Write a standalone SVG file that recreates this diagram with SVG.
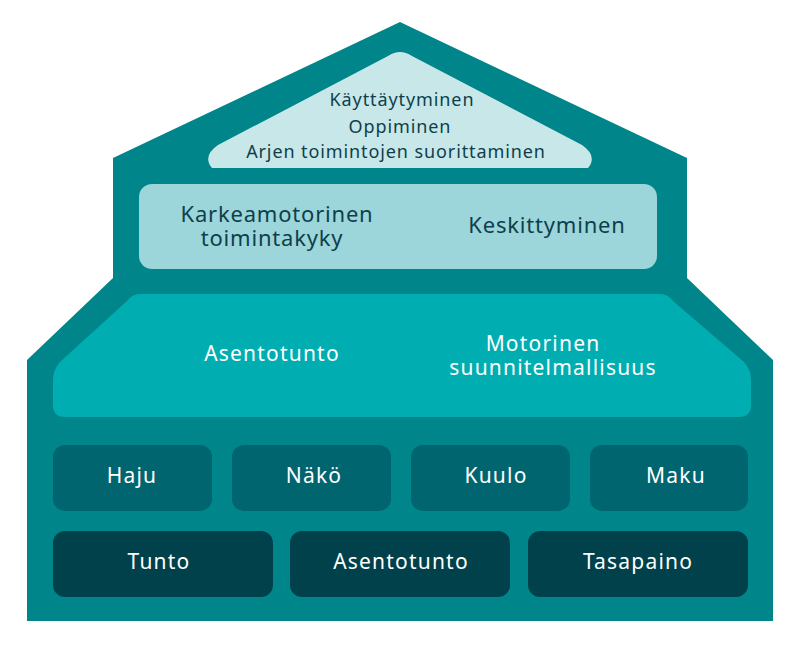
<svg xmlns="http://www.w3.org/2000/svg" width="800" height="648" viewBox="0 0 800 648">
<style>
text{font-family:"Noto Sans","Liberation Sans",sans-serif;text-anchor:middle}
.d{fill:#0e3f4c;font-size:18px;letter-spacing:0.9px}
.m{fill:#0e3f4c;font-size:22px;letter-spacing:0.8px}
.w{fill:#ffffff;font-size:21px;letter-spacing:1.2px}
.r1{fill:#016570}
.r2{fill:#00414b}
</style>
<rect width="800" height="648" fill="#ffffff"/>
<g id="house">
<path d="M400 22 L687 158 L687 278 L773 360 L773 621 L27 621 L27 360 L113 278 L113 158 Z" fill="#00868a"/>
</g>
<g id="top">
<path d="M388 56 Q400 48 412 56 L582 145 Q598 156 588 168 L212 168 Q202 156 218 145 Z" fill="#c8e7e9"/>
<text class="d" x="402" y="106">Käyttäytyminen</text>
<text class="d" x="400" y="133">Oppiminen</text>
<text class="d" x="396" y="158">Arjen toimintojen suorittaminen</text>
</g>
<g id="middle">
<rect x="139" y="184" width="518" height="85" rx="13" fill="#9cd5da"/>
<text class="m" x="277" y="222">Karkeamotorinen</text>
<text class="m" x="272" y="246">toimintakyky</text>
<text class="m" x="547" y="233">Keskittyminen</text>
</g>
<g id="band">
<path d="M140 294 L660 294 Q668 294 673 301 L744 362 Q751 370 751 380 L751 405 Q751 417 739 417 L65 417 Q53 417 53 405 L53 380 Q53 370 60 362 L127 301 Q132 294 140 294 Z" fill="#00aeb1"/>
<text class="w" x="272" y="361">Asentotunto</text>
<text class="w" x="543" y="351">Motorinen</text>
<text class="w" x="553" y="375">suunnitelmallisuus</text>
</g>
<g id="haju"><rect class="r1" x="53" y="445" width="159" height="66" rx="12"/><text class="w" x="132" y="483">Haju</text></g>
<g id="nako"><rect class="r1" x="232" y="445" width="159" height="66" rx="12"/><text class="w" x="314" y="483">Näkö</text></g>
<g id="kuulo"><rect class="r1" x="411" y="445" width="159" height="66" rx="12"/><text class="w" x="496" y="483">Kuulo</text></g>
<g id="maku"><rect class="r1" x="590" y="445" width="158" height="66" rx="12"/><text class="w" x="676" y="483">Maku</text></g>
<g id="tunto"><rect class="r2" x="53" y="531" width="220" height="66" rx="12"/><text class="w" x="159" y="569">Tunto</text></g>
<g id="asentotunto2"><rect class="r2" x="290" y="531" width="220" height="66" rx="12"/><text class="w" x="401" y="569">Asentotunto</text></g>
<g id="tasapaino"><rect class="r2" x="528" y="531" width="220" height="66" rx="12"/><text class="w" x="638" y="569">Tasapaino</text></g>
<g id="connectors"/>
</svg>
